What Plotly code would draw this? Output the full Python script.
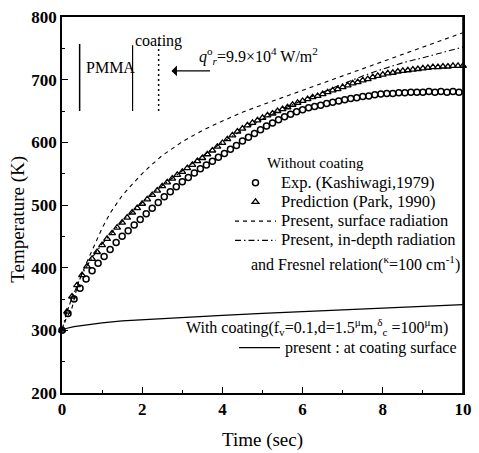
import plotly.graph_objects as go

# ---- data -------------------------------------------------------------
# Surface temperature of PMMA under q = 9.9e4 W/m^2, without coating
exp_time = [0.0, 0.15, 0.3, 0.45, 0.6, 0.75, 0.9, 1.05, 1.2, 1.35, 1.5, 1.65, 1.8, 1.95,
            2.1, 2.25, 2.4, 2.55, 2.7, 2.85, 3.0, 3.15, 3.3, 3.45, 3.6, 3.75, 3.9, 4.05,
            4.2, 4.35, 4.5, 4.65, 4.8, 4.95, 5.1, 5.25, 5.4, 5.55, 5.7, 5.85, 6.0, 6.15,
            6.3, 6.45, 6.6, 6.75, 6.9, 7.05, 7.2, 7.35, 7.5, 7.65, 7.8, 7.95, 8.1, 8.25,
            8.4, 8.55, 8.7, 8.85, 9.0, 9.15, 9.3, 9.45, 9.6, 9.75, 9.9]
exp_temp = [300, 327, 350, 367, 382, 395, 407, 418, 429, 440, 450, 459, 468, 477,
            486, 495, 504, 513, 521, 529, 537, 544, 551, 558, 564, 570, 576, 582,
            589, 595, 602, 608, 614, 620, 626, 631, 636, 641, 645, 649, 652, 655,
            657, 659, 662, 664, 666, 668, 670, 671, 673, 674, 676, 677, 678, 678,
            679, 679, 680, 680, 680, 681, 680, 681, 680, 681, 680]

park_time = [0.0, 0.125, 0.25, 0.375, 0.5, 0.625, 0.75, 0.875, 1.0, 1.125, 1.25, 1.375,
             1.5, 1.625, 1.75, 1.875, 2.0, 2.125, 2.25, 2.375, 2.5, 2.625, 2.75, 2.875,
             3.0, 3.125, 3.25, 3.375, 3.5, 3.625, 3.75, 3.875, 4.0, 4.125, 4.25, 4.375,
             4.5, 4.625, 4.75, 4.875, 5.0, 5.125, 5.25, 5.375, 5.5, 5.625, 5.75, 5.875,
             6.0, 6.125, 6.25, 6.375, 6.5, 6.625, 6.75, 6.875, 7.0, 7.125, 7.25, 7.375,
             7.5, 7.625, 7.75, 7.875, 8.0, 8.125, 8.25, 8.375, 8.5, 8.625, 8.75, 8.875,
             9.0, 9.125, 9.25, 9.375, 9.5, 9.625, 9.75, 9.875, 10.0]
park_temp = [300, 330, 354, 372, 388, 402, 414, 425, 436, 446, 455, 464,
             472, 480, 488, 495, 502, 509, 516, 523, 530, 536, 542, 548,
             553, 559, 564, 570, 575, 581, 587, 593, 599, 605, 611, 617,
             622, 627, 631, 635, 639, 643, 646, 650, 653, 656, 660, 663,
             666, 669, 672, 674, 677, 680, 683, 685, 688, 691, 694, 696,
             699, 701, 704, 706, 708, 710, 711, 713, 714, 715, 716, 717,
             718, 719, 720, 720, 721, 721, 722, 722, 722]

surf_time = [0.0, 0.1, 0.25, 0.4, 0.6, 0.8, 1.0, 1.2, 1.5, 1.75, 2.0, 2.25, 2.5, 3.0,
             3.5, 4.0, 4.5, 5.0, 6.0, 7.0, 8.0, 9.0, 10.0]
surf_temp = [300, 318, 336, 375, 406, 436, 463, 487, 515, 533, 550, 565, 579, 601,
             619, 634, 648, 660, 683, 706, 729, 752, 775]

depth_time = [0.0, 0.1, 0.25, 0.5, 0.75, 1.0, 1.5, 2.0, 2.5, 3.0, 3.5, 4.0,
              4.5, 5.0, 5.5, 6.0, 6.5, 7.0, 7.5, 8.0, 8.5, 9.0, 9.5, 10.0]
depth_temp = [300, 325, 352, 390, 416, 438, 474, 504, 531, 555, 578, 600,
              620, 637, 653, 667, 680, 694, 706, 717, 727, 735, 744, 752]

# With coating: temperature at the coating surface
coat_time = [0.0, 0.1, 0.3, 0.6, 1.0, 1.5, 2.0, 3.0, 4.0, 5.0, 6.0, 7.0, 8.0, 9.0, 10.0]
coat_temp = [300, 303, 306, 309, 312, 315, 317, 321, 324, 327, 330, 333, 336, 339, 341]

x_ticks = [0, 2, 4, 6, 8, 10]
y_ticks = [200, 300, 400, 500, 600, 700, 800]

# ---- style ------------------------------------------------------------
SERIF = "Liberation Serif"
INK = "black"


def lab(text, size=16.5):
    return f'<span style="font-size:{size}px">{text}</span>'


fig = go.Figure()

fig.add_trace(go.Scatter(
    x=surf_time, y=surf_temp, mode="lines", name=lab("Present, surface radiation"),
    line=dict(color=INK, width=1.1, dash="4px,4px"), legend="legend", legendrank=3))
fig.add_trace(go.Scatter(
    x=depth_time, y=depth_temp, mode="lines", name=lab("Present, in-depth radiation"),
    line=dict(color=INK, width=1.1, dash="6px,3px,1.5px,3px"), legend="legend", legendrank=4))
fig.add_trace(go.Scatter(
    x=coat_time, y=coat_temp, mode="lines", name=lab("present : at coating surface", 16),
    line=dict(color=INK, width=1.2), legend="legend2"))
fig.add_trace(go.Scatter(
    x=park_time, y=park_temp, mode="markers", name=lab("Prediction (Park, 1990)"),
    marker=dict(symbol="triangle-up-open", size=6, color=INK, line=dict(width=1.3)),
    cliponaxis=False, legend="legend", legendrank=2))
fig.add_trace(go.Scatter(
    x=exp_time, y=exp_temp, mode="markers", name=lab("Exp. (Kashiwagi,1979)"),
    marker=dict(symbol="circle-open", size=6, color=INK, line=dict(width=1.5)),
    cliponaxis=False, legend="legend", legendrank=1))

axis_common = dict(
    showline=True, linecolor=INK, linewidth=1.6, mirror=True,
    ticks="inside", ticklen=6, tickwidth=1.4, tickcolor=INK,
    showgrid=False, zeroline=False, ticklabeloverflow="allow",
    tickfont=dict(family=SERIF, size=17, color=INK, weight="bold"),
)

fig.update_xaxes(
    range=[0, 10], tickvals=x_ticks, **axis_common,
    minor=dict(dtick=1, ticks="inside", ticklen=3, tickcolor=INK, tickwidth=1.2),
    title=dict(text="Time (sec)", font=dict(family=SERIF, size=19, color=INK), standoff=14),
)
fig.update_yaxes(
    range=[200, 800], tickvals=y_ticks, **axis_common,
    minor=dict(dtick=50, ticks="inside", ticklen=3, tickcolor=INK, tickwidth=1.2),
)

# right-hand edge of the frame, drawn on top of the traces
fig.add_shape(type="line", xref="paper", yref="paper", x0=1, x1=1, y0=0, y1=1,
              line=dict(color=INK, width=1.6), layer="above")

# vertical axis title, set a little below the centre of the axis
fig.add_annotation(xref="paper", yref="paper", x=-0.11, y=0.463, text="Temperature (K)",
                   textangle=-90, showarrow=False, xanchor="center", yanchor="middle",
                   font=dict(family=SERIF, size=19, color=INK))

# specimen sketch: PMMA slab, coating interface and incident flux
fig.add_shape(type="line", x0=0.44, x1=0.44, y0=650, y1=757, line=dict(color=INK, width=1.5))
fig.add_shape(type="line", x0=1.76, x1=1.76, y0=650, y1=755, line=dict(color=INK, width=1.2))
fig.add_shape(type="line", x0=2.41, x1=2.41, y0=650, y1=757,
              line=dict(color=INK, width=1.5, dash="2px,3px"))

notes = [
    dict(x=1.22, y=719, text="PMMA", xanchor="center", size=16),
    dict(x=1.76, y=761, text="coating", xanchor="left", size=16),
    dict(x=3.36, y=737, text="<i>q</i><sup>o</sup><sub><i>r</i></sub>=9.9×10<sup>4</sup> W/m<sup>2</sup>",
         xanchor="left", size=16),
    dict(x=5.07, y=567, text="Without coating", xanchor="left", size=15),
    dict(x=4.66, y=407, text="and Fresnel relation(<sup>κ</sup>=100 cm<sup>-1</sup>)",
         xanchor="left", size=16),
    dict(x=3.05, y=305,
         text="With coating(f<sub>v</sub>=0.1,d=1.5<sup>μ</sup>m,<sup>δ</sup><sub>c</sub> =100<sup>μ</sup>m)",
         xanchor="left", size=16),
]
for n in notes:
    fig.add_annotation(x=n["x"], y=n["y"], text=n["text"], xanchor=n["xanchor"], yanchor="middle",
                       showarrow=False, font=dict(family=SERIF, size=n["size"], color=INK))

fig.add_annotation(x=2.73, y=714, ax=3.73, ay=714, xref="x", yref="y", axref="x", ayref="y",
                   text="", showarrow=True, arrowhead=1, arrowsize=1.4, arrowwidth=1.3,
                   arrowcolor=INK)

legend_common = dict(
    bgcolor="rgba(0,0,0,0)", borderwidth=0, xanchor="left", yanchor="top",
    font=dict(family=SERIF, size=12.5, color=INK), itemsizing="trace",
    tracegroupgap=0, itemwidth=41,
)

PLOT_L, PLOT_R = 62, 463   # plotting area, in pixels across the page
PLOT_T, PLOT_B = 17, 393   # plotting area, in pixels down the page
span_x = PLOT_R - PLOT_L
span_y = PLOT_B - PLOT_T

fig.update_layout(
    width=479, height=453,
    margin=dict(l=PLOT_L, r=479 - PLOT_R, t=PLOT_T, b=453 - PLOT_B, autoexpand=False),
    paper_bgcolor="white", plot_bgcolor="white",
    showlegend=True,
    legend=dict(x=(230 - PLOT_L) / span_x, y=(PLOT_B - 168) / span_y, **legend_common),
    legend2=dict(x=(234 - PLOT_L) / span_x, y=(PLOT_B - 333) / span_y, **legend_common),
)

fig.write_html("out.html")
